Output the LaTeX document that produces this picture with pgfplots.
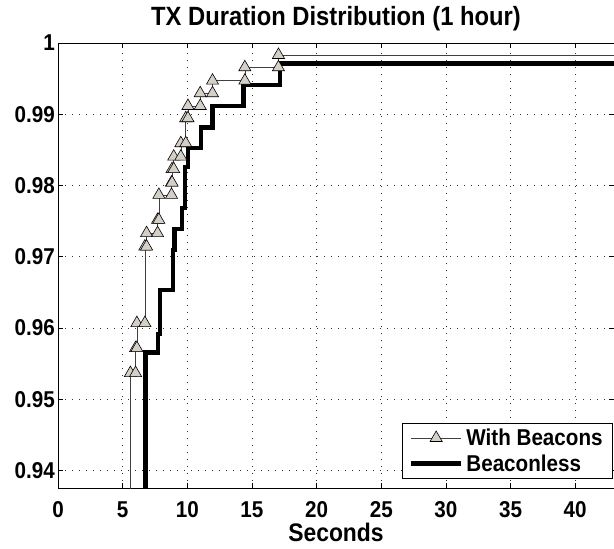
\documentclass[border=0pt]{standalone}
\usepackage{fontspec}
\setmainfont[FakeStretch=0.9]{Liberation Sans}
\usepackage{pgfplots}
\pgfplotsset{compat=1.18}
\definecolor{mfill}{RGB}{212,208,200}
\begin{document}
\begin{tikzpicture}
\begin{axis}[
  scale only axis,
  width=556bp, height=445.3bp,
  xmin=0, xmax=43, ymin=0.9375, ymax=1,
  xtick={0,5,...,40},
  ytick={0.94,0.95,0.96,0.97,0.98,0.99,1},
  yticklabels={0.94,0.95,0.96,0.97,0.98,0.99,1},
  /pgf/number format/assume math mode=true,
  ticklabel style={font=\bfseries\fontsize{23}{26}\selectfont},
  xticklabel style={anchor=base, yshift=-29bp},
  yticklabel style={inner xsep=3bp},
  tick align=inside,
  major tick length=5bp,
  tick style={black, line width=0.6bp},
  grid=major,
  grid style={black!80, line width=0.6bp, dash pattern=on 0.8bp off 6.2bp},
  axis line style={line width=0.8bp},
  title={TX Duration Distribution (1 hour)},
  title style={font=\bfseries\fontsize{26.5}{30}\selectfont, at={(0.5,1)}, anchor=base, yshift=12bp},
  xlabel={Seconds},
  xlabel style={font=\bfseries\fontsize{25.5}{30}\selectfont, at={(0.5,0)}, anchor=base, yshift=-53.7bp},
  legend style={at={(0.998,0.147)}, anchor=north east, draw=black, line width=0.6bp,
    font=\bfseries\fontsize{23}{24}\selectfont, inner xsep=7bp, inner ysep=2bp,
    row sep=0bp, nodes={inner xsep=3bp, inner ysep=3.8bp}},
  legend cell align=left,
  legend image code/.code={\draw[mark repeat=2,mark phase=2,#1] plot coordinates {(0bp,0bp) (25bp,0bp) (50bp,0bp)};},
]
\coordinate (bl) at (rel axis cs:0,0);
\coordinate (tr) at (rel axis cs:1,1);
% Beaconless (thick)
\addplot[black, line width=4.5bp, no marks, forget plot] coordinates {
(6.75,0.90) (6.75,0.95656) (7.75,0.95656) (7.75,0.95919) (7.88,0.95919) (7.88,0.96536)
(8.88,0.96536) (8.88,0.97097) (9.0,0.97097) (9.0,0.97391) (9.58,0.97391) (9.58,0.97686)
(9.82,0.97686) (9.82,0.98261) (10.07,0.98261) (10.07,0.98527) (11.05,0.98527) (11.05,0.98815)
(11.95,0.98815) (11.95,0.99116) (14.35,0.99116) (14.35,0.99411) (17.15,0.99411) (17.15,0.99712)
(43,0.99712)
};
% With Beacons (thin line)
\addplot[black!75, line width=0.6bp, no marks, forget plot] coordinates {
(5.6,0.90) (5.6,0.95367) (6.0,0.95367) (6.0,0.95718) (6.1,0.95718) (6.1,0.96069)
(6.72,0.96069) (6.72,0.97143) (6.85,0.97143) (6.85,0.97331) (7.7,0.97331) (7.7,0.97517)
(7.8,0.97517) (7.8,0.97868) (8.78,0.97868) (8.78,0.98041) (8.82,0.98041) (8.82,0.98229)
(8.95,0.98229) (8.95,0.98405) (9.5,0.98405) (9.5,0.98593) (9.88,0.98593) (9.88,0.98944)
(10.05,0.98944) (10.05,0.99116) (11.0,0.99116) (11.0,0.99294) (11.95,0.99294) (11.95,0.99471)
(14.45,0.99471) (14.45,0.99659) (17.05,0.99659) (17.05,0.99832) (43,0.99832)
};
% With Beacons (markers at the step corners)
\addplot[only marks, mark=triangle*, mark size=7bp, mark options={fill=mfill, draw=black, line width=0.6bp}, forget plot] coordinates {
(5.6,0.95367) (6.0,0.95367) (6.0,0.95718) (6.1,0.95718) (6.1,0.96069)
(6.72,0.96069) (6.72,0.97143) (6.85,0.97143) (6.85,0.97331) (7.7,0.97331) (7.7,0.97517)
(7.8,0.97517) (7.8,0.97868) (8.78,0.97868) (8.78,0.98041) (8.82,0.98041) (8.82,0.98229)
(8.95,0.98229) (8.95,0.98405) (9.5,0.98405) (9.5,0.98593) (9.88,0.98593) (9.88,0.98944)
(10.05,0.98944) (10.05,0.99116) (11.0,0.99116) (11.0,0.99294) (11.95,0.99294) (11.95,0.99471)
(14.45,0.99471) (14.45,0.99659) (17.05,0.99659) (17.05,0.99832)
};
\addlegendimage{black!75, line width=0.6bp, mark=triangle*, mark size=7bp, mark options={fill=mfill, draw=black, line width=0.6bp}}
\addlegendentry{With Beacons}
\addlegendimage{black, line width=4.5bp}
\addlegendentry{Beaconless}
\end{axis}
\pgfresetboundingbox
\path ([xshift=-58bp,yshift=-60bp]bl) rectangle ([yshift=43bp]tr);
\end{tikzpicture}
\end{document}
